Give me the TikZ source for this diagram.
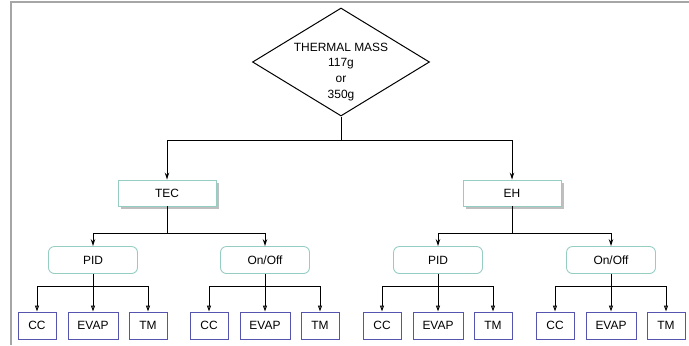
\documentclass[tikz,border=0pt]{standalone}
\usepackage{fontspec}
\setmainfont{Liberation Sans}
\usetikzlibrary{arrows.meta,shapes.geometric,shadows}
\definecolor{tealline}{RGB}{150,205,195}
\definecolor{boxblue}{RGB}{85,85,175}
\begin{document}
\begin{tikzpicture}[x=1bp,y=-1bp,font=\fontsize{12}{16}\selectfont,
  ln/.style={line width=1bp},
  arr/.style={ln,-{Stealth[length=7bp,width=4.5bp]}},
  sarr/.style={ln,-{Triangle[open,length=6bp,width=4bp]}},
  ctl/.style={draw=tealline,line width=0.9bp,fill=white,minimum width=98bp,minimum height=26bp,
    drop shadow={shadow xshift=2.5bp,shadow yshift=-2.5bp,fill=black!25,opacity=1}},
  mode/.style={draw=tealline,line width=0.9bp,rounded corners=6bp,minimum width=89bp,minimum height=27bp},
  leaf/.style={draw=boxblue,line width=1bp,minimum height=27bp}]

  \useasboundingbox (0,0) rectangle (689,345);
  % frame (top and left edges only)
  \draw[gray!70,line width=1.5bp] (11,345) -- (11,2) -- (689,2);

  % top: thermal mass
  \node[draw,diamond,ln,minimum width=177bp,minimum height=108bp,inner sep=0pt] (tm) at (341,62) {};
  \node[align=center] (tmtxt) at (341,72) {THERMAL MASS\\117g\\or\\350g};

  % controllers
  \node[ctl] (tec) at (167,193) {TEC};
  \node[ctl] (eh) at (512,193) {EH};
  \coordinate (s0) at (341,140);
  \draw[ln] (tm.south) -- (s0);
  \draw[arr] (s0) -| (tec.north);
  \draw[arr] (s0) -| (eh.north);

  % control modes
  \foreach \px/\id/\name in {93/tpid/PID, 265/toff/{On/Off}, 438/epid/PID, 611/eoff/{On/Off}}{
    \node[mode] (\id) at (\px,260) {\name};
  }
  \coordinate (s1) at (167,233);
  \coordinate (s2) at (512,233);
  \draw[ln] (tec.south) -- (s1);
  \draw[ln] (eh.south) -- (s2);
  \draw[arr] (s1) -| (tpid.north);
  \draw[arr] (s1) -| (toff.north);
  \draw[arr] (s2) -| (epid.north);
  \draw[arr] (s2) -| (eoff.north);

  % outputs
  \foreach \px/\id in {93/tpid, 265/toff, 438/epid, 611/eoff}{
    \coordinate (\id-s) at (\px,286);
    \draw[ln] (\id.south) -- (\id-s);
    \foreach \dx/\w/\lab in {-56/38bp/CC, 0/50bp/EVAP, 55/38bp/TM}{
      \node[leaf,minimum width=\w] (\id-\lab) at (\px+\dx,325.5) {\lab};
      \draw[sarr] (\id-s) -| (\id-\lab.north);
    }
  }
\end{tikzpicture}
\end{document}
